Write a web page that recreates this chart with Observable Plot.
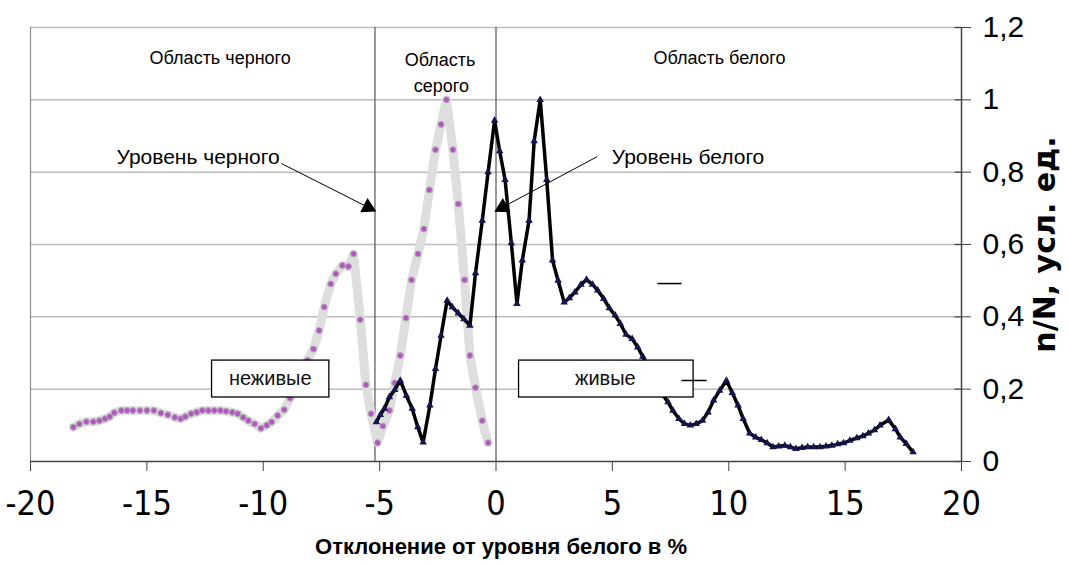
<!DOCTYPE html>
<html><head><meta charset="utf-8">
<script src="https://cdn.jsdelivr.net/npm/d3@7"></script>
<script src="https://cdn.jsdelivr.net/npm/@observablehq/plot@0.6"></script>
<style>body{margin:0;background:#fff} svg{display:block}</style>
</head><body><div id="chart"></div>
<script>
// Grey curve ("неживые")
const greyX = [-18.16,-17.9,-17.6,-17.3,-17.04,-16.8,-16.6,-16.4,-16.1,-15.85,-15.6,-15.3,-15.0,-14.7,-14.4,-14.1,-13.8,-13.55,-13.35,-13.1,-12.86,-12.62,-12.36,-12.1,-11.84,-11.6,-11.33,-11.1,-10.86,-10.64,-10.37,-10.1,-9.85,-9.64,-9.38,-9.1,-8.85,-8.6,-8.35,-8.1,-7.84,-7.6,-7.38,-7.1,-6.88,-6.6,-6.34,-6.12,-5.83,-5.59,-5.37,-5.09,-4.86,-4.58,-4.35,-4.11,-3.87,-3.63,-3.35,-3.1,-2.86,-2.6,-2.36,-2.13,-1.85,-1.62,-1.35,-1.12,-0.88,-0.59,-0.34];
const greyY = [0.095,0.104,0.11,0.11,0.113,0.118,0.124,0.135,0.141,0.141,0.141,0.141,0.141,0.141,0.134,0.129,0.122,0.118,0.124,0.132,0.136,0.141,0.141,0.141,0.141,0.139,0.136,0.132,0.122,0.113,0.104,0.092,0.1,0.109,0.127,0.143,0.175,0.21,0.245,0.28,0.311,0.362,0.427,0.491,0.519,0.542,0.539,0.574,0.392,0.212,0.132,0.052,0.098,0.141,0.217,0.293,0.397,0.502,0.574,0.643,0.751,0.862,0.932,1.0,0.862,0.712,0.502,0.293,0.204,0.113,0.052];
// Black curve ("живые")
const blackX = [-5.14,-4.97,-4.8,-4.58,-4.35,-4.11,-3.85,-3.6,-3.36,-3.13,-2.84,-2.6,-2.36,-2.1,-1.88,-1.62,-1.38,-1.12,-0.88,-0.59,-0.34,-0.06,0.16,0.39,0.66,0.9,1.13,1.42,1.64,1.9,2.18,2.43,2.67,2.93,3.15,3.39,3.65,3.89,4.15,4.37,4.63,4.87,5.12,5.34,5.59,5.85,6.09,6.31,6.6,6.85,7.1,7.39,7.6,7.86,8.1,8.35,8.6,8.87,9.11,9.35,9.61,9.9,10.15,10.4,10.62,10.9,11.16,11.4,11.65,11.9,12.15,12.41,12.65,12.89,13.15,13.39,13.65,13.92,14.18,14.43,14.68,14.93,15.2,15.5,15.76,16.0,16.26,16.5,16.87,17.16,17.37,17.63,17.92];
const blackY = [0.109,0.129,0.146,0.178,0.198,0.224,0.182,0.146,0.095,0.053,0.155,0.256,0.348,0.445,0.427,0.41,0.394,0.376,0.521,0.666,0.8,0.943,0.858,0.779,0.604,0.436,0.556,0.666,0.886,1.0,0.779,0.556,0.5,0.44,0.452,0.468,0.489,0.503,0.489,0.473,0.45,0.424,0.404,0.381,0.351,0.339,0.316,0.29,0.255,0.22,0.19,0.164,0.141,0.118,0.104,0.1,0.104,0.113,0.136,0.169,0.196,0.224,0.19,0.155,0.118,0.078,0.067,0.06,0.051,0.04,0.042,0.044,0.04,0.035,0.038,0.04,0.04,0.04,0.042,0.044,0.048,0.051,0.058,0.065,0.07,0.078,0.087,0.1,0.115,0.09,0.067,0.049,0.026];

const xTicks = [-20,-15,-10,-5,0,5,10,15,20];
const yTicks = [0,0.2,0.4,0.6,0.8,1.0,1.2];
const regionBounds = [-5.2, 0];
const regionLabels = [
  {x:-11.85, y:1.114, text:"Область черного"},
  {x:-2.4, y:1.109, text:"Область"},
  {x:-2.35, y:1.037, text:"серого"},
  {x:9.6, y:1.114, text:"Область белого"}
];
const levelLabels = [{x:-12.8, y:0.84, text:"Уровень черного"}, {x:8.25, y:0.84, text:"Уровень белого"}];
const levelArrows = [{x1:-9.22, y1:0.824, x2:-5.5, y2:0.703, rot:117}, {x1:4.35, y1:0.843, x2:0.28, y2:0.703, rot:242}];
const boxes = [{x1:-12.2, x2:-7.16, y1:0.177, y2:0.279, text:"неживые", tx:-9.7}, {x1:0.99, x2:8.49, y1:0.177, y2:0.279, text:"живые", tx:4.7}];
const strays = [{x1:6.94, x2:7.97, y:0.492}, {x1:7.97, x2:9.05, y:0.224}];
const xTitle = "Отклонение от уровня белого в %";
const yTitle = "n/N, усл. ед.";

const grey = greyX.map((x,i)=>({x, y:greyY[i]}));
const black = blackX.map((x,i)=>({x, y:blackY[i]}));
const fmt = d => String(d).replace(".", ",");
const FONT = "Liberation Sans, Arial, sans-serif";

const chart = Plot.plot({
  width: 1069, height: 566,
  marginLeft: 30, marginRight: 108, marginTop: 27, marginBottom: 105,
  style: {fontFamily: FONT, background: "#fff", color: "#000"},
  x: {domain: [-20, 20]},
  y: {domain: [0, 1.2]},
  marks: [
    Plot.gridY(yTicks.slice(1), {stroke: "#bdbdbd", strokeOpacity: 1, strokeWidth: 1.5}),
    Plot.ruleX([-20], {stroke: "#8a8a8a", strokeWidth: 1.2}),
    Plot.ruleX(regionBounds, {stroke: "#555", strokeWidth: 1.2}),
    Plot.line(grey, {x: "x", y: "y", stroke: "#dedede", strokeWidth: 9}),
    Plot.dot(grey, {x: "x", y: "y", r: 3, fill: "#b455c4", stroke: "#b0b0b0", strokeWidth: 1}),
    Plot.line(black, {x: "x", y: "y", stroke: "#000", strokeWidth: 3.5}),
    Plot.dot(black, {x: "x", y: "y", r: 2.8, symbol: "triangle", fill: "#14144e", stroke: "none"}),
    Plot.rect(boxes, {x1: "x1", x2: "x2", y1: "y1", y2: "y2", fill: "#fff", stroke: "#000", strokeWidth: 1.3}),
    Plot.text(boxes, {x: "tx", y: d => (d.y1 + d.y2) / 2, text: "text", fontSize: 20, fill: "#111"}),
    Plot.link(strays, {x1: "x1", x2: "x2", y1: "y", y2: "y", stroke: "#000", strokeWidth: 1.5}),
    Plot.link(levelArrows, {x1: "x1", y1: "y1", x2: "x2", y2: "y2", stroke: "#000", strokeWidth: 1}),
    Plot.dot(levelArrows, {x: "x2", y: "y2", symbol: "triangle", r: 6, rotate: "rot", fill: "#000", stroke: "none"}),
    Plot.text(levelLabels, {x: "x", y: "y", text: "text", fontSize: 21, fill: "#000"}),
    Plot.text(regionLabels, {x: "x", y: "y", text: "text", fontSize: 18, fill: "#000"}),
    Plot.ruleY([0], {stroke: "#444", strokeWidth: 1.5}),
    Plot.ruleX([20], {stroke: "#444", strokeWidth: 1.5}),
    Plot.ruleY(yTicks, {x1: 19.72, x2: 20, stroke: "#444", strokeWidth: 1.2}),
    Plot.axisX(xTicks, {tickSize: 10, tickPadding: 19, fontSize: 34, fontFamily: "DejaVu Sans Condensed, Liberation Sans, Arial, sans-serif", label: null, tickFormat: d => String(d), stroke: "#444"}),
    Plot.axisY(yTicks, {anchor: "right", tickSize: 9, tickPadding: 12, fontSize: 30, label: null, tickFormat: fmt, stroke: "#444"}),
    Plot.text([xTitle], {frameAnchor: "bottom", dy: 92, dx: 5, fontSize: 22, fontWeight: "bold", fill: "#000"}),
    Plot.text([yTitle], {frameAnchor: "right", dx: 84, textAnchor: "middle", rotate: -90, fontSize: 30, fontWeight: "bold", fontFamily: "DejaVu Sans, sans-serif", fill: "#000"})
  ]
});
document.getElementById("chart").appendChild(chart);
</script>
</body></html>
